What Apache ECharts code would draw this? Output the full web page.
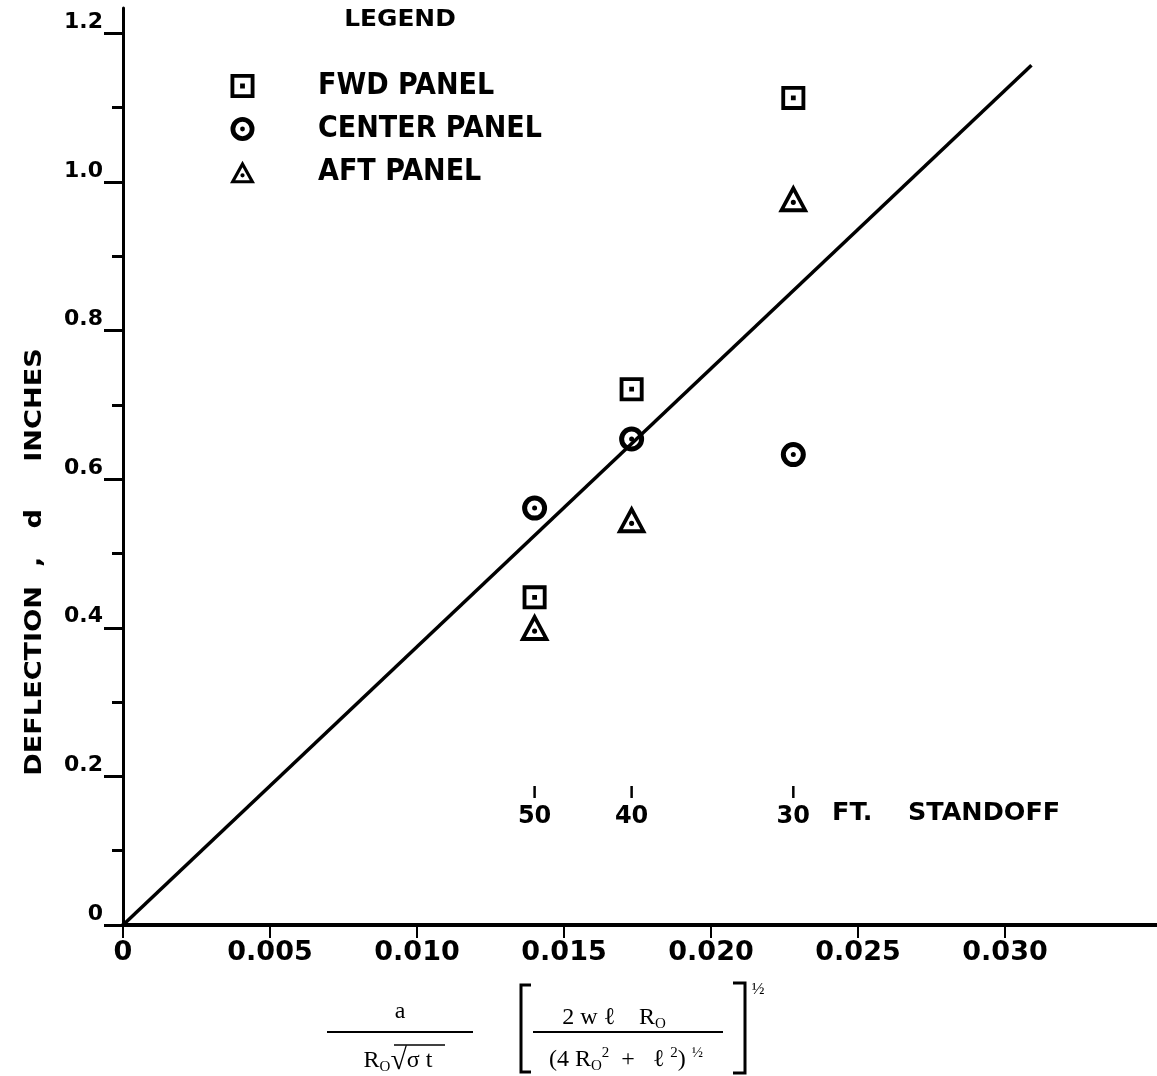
<!DOCTYPE html>
<html>
<head>
<meta charset="utf-8">
<script src="https://cdn.jsdelivr.net/npm/echarts@6/dist/echarts.min.js"></script>
<style>
html,body{margin:0;padding:0;background:#fff;}
#chart{width:1157px;height:1076px;}
</style>
</head>
<body>
<div id="chart"></div>
<script>
// ---- data ----
const xTickValues = [0, 0.005, 0.010, 0.015, 0.020, 0.025, 0.030];
const xTickLabels = ['0', '0.005', '0.010', '0.015', '0.020', '0.025', '0.030'];
const yTickValues = [0, 0.2, 0.4, 0.6, 0.8, 1.0, 1.2];
const yTickLabels = ['0', '0.2', '0.4', '0.6', '0.8', '1.0', '1.2'];
const yMinorTicks = [0.1, 0.3, 0.5, 0.7, 0.9, 1.1];
const standoffX = [0.0140, 0.0173, 0.0228];
const standoffFt = ['50', '40', '30'];
const standoffUnit = 'FT.    STANDOFF';
const fwdY = [0.441, 0.721, 1.113];
const centerY = [0.561, 0.654, 0.633];
const aftY = [0.401, 0.546, 0.978];
const fitX = [0, 0.0309];
const fitY = [0, 1.157];
const seriesNames = ['FWD PANEL', 'CENTER PANEL', 'AFT PANEL'];
const yAxisTitle = 'DEFLECTION  ,   d     INCHES';
const legendTitle = 'LEGEND';

// ---- styles ----
const INK = '#000';
const SANS = "'DejaVu Sans', 'Liberation Sans', sans-serif";
const NARROW = "'Liberation Sans Narrow', 'DejaVu Sans Condensed', 'Roboto Condensed', 'Liberation Sans', sans-serif";
const SERIF = "'Liberation Serif', 'DejaVu Serif', serif";
const STANDOFF_MARK_Y = 0.179;

const squareSym = 'path://M0,0H20V20H0Z M3.2,3.2V16.8H16.8V3.2Z M8,8H12V12H8Z';
const circleSym = 'path://M10,0A10,10 0 1,1 10,20A10,10 0 1,1 10,0Z M10,4A6,6 0 1,0 10,16A6,6 0 1,0 10,4Z M10,8A2,2 0 1,1 10,12A2,2 0 1,1 10,8Z';
const triSym = 'path://M10,0L20,18L0,18Z M10,5.2L4.2,15.5L15.8,15.5Z M10,9.9A1.7,1.7 0 1,1 10,13.3A1.7,1.7 0 1,1 10,9.9Z';

function pairs(xs, ys) { return xs.map((x, i) => [x, ys[i]]); }
function labelFor(values, labels, v) {
  const i = values.findIndex(t => Math.abs(t - v) < 1e-9);
  return i >= 0 ? labels[i] : '';
}
function centered(extra) {
  return Object.assign({align: 'center', verticalAlign: 'middle', textAlign: 'center', textVerticalAlign: 'middle', fill: INK}, extra);
}

const chart = echarts.init(document.getElementById('chart'), null, {renderer: 'canvas'});

const subRich = {fontFamily: SERIF, fontSize: 15, fill: INK, lineHeight: 28, verticalAlign: 'bottom', padding: [12, 0, 0, 0]};
const supRich = {fontFamily: SERIF, fontSize: 15, fill: INK, lineHeight: 28, verticalAlign: 'top', padding: [0, 0, 12, 0]};

const option = {
  backgroundColor: '#fff',
  animation: false,
  legend: {
    orient: 'vertical', left: 230, top: 71, padding: 0,
    itemWidth: 25, itemHeight: 24, itemGap: 13,
    data: seriesNames,
    itemStyle: {opacity: 1},
    textStyle: {fontFamily: NARROW, fontWeight: 'bold', fontSize: 30, lineHeight: 30, color: INK, padding: [0, 0, 0, 58]}
  },
  grid: {left: 123, right: 0, top: 8, bottom: 151, containLabel: false},
  xAxis: {
    type: 'value', min: 0, max: 0.03517,
    axisLine: {show: true, onZero: false, lineStyle: {color: INK, width: 4}},
    axisTick: {show: true, length: 13, lineStyle: {color: INK, width: 2}, customValues: xTickValues},
    axisLabel: {
      customValues: xTickValues, margin: 14,
      fontFamily: SANS, fontWeight: 'bold', fontSize: 27, color: INK,
      formatter: v => labelFor(xTickValues, xTickLabels, v)
    },
    splitLine: {show: false}
  },
  yAxis: [{
    type: 'value', min: 0, max: 1.234,
    axisLine: {show: true, onZero: false, lineStyle: {color: INK, width: 3}},
    axisTick: {show: true, length: 19, lineStyle: {color: INK, width: 3}, customValues: yTickValues},
    axisLabel: {
      customValues: yTickValues, margin: 20, verticalAlign: 'bottom',
      fontFamily: SANS, fontWeight: 'bold', fontSize: 22, color: INK,
      formatter: v => labelFor(yTickValues, yTickLabels, v)
    },
    splitLine: {show: false}
  }, {
    type: 'value', min: 0, max: 1.234, position: 'left',
    axisLine: {show: false},
    axisTick: {show: true, length: 11, lineStyle: {color: INK, width: 3}, customValues: yMinorTicks},
    axisLabel: {show: false},
    splitLine: {show: false}
  }],
  series: [
    {
      name: 'fit', type: 'line', data: pairs(fitX, fitY), showSymbol: false, symbol: 'none',
      lineStyle: {color: INK, width: 3.5}, z: 2, silent: true
    },
    {
      name: seriesNames[0], type: 'scatter', data: pairs(standoffX, fwdY),
      symbol: squareSym, symbolSize: 24, itemStyle: {color: INK, opacity: 1}, z: 3
    },
    {
      name: seriesNames[1], type: 'scatter', data: pairs(standoffX, centerY),
      symbol: circleSym, symbolSize: 25, itemStyle: {color: INK, opacity: 1}, z: 3
    },
    {
      name: seriesNames[2], type: 'scatter', data: pairs(standoffX, aftY),
      symbol: triSym, symbolSize: [30, 28], itemStyle: {color: INK, opacity: 1}, z: 3
    },
    {
      name: 'standoff', type: 'scatter', silent: true,
      data: standoffX.map((x, i) => ({value: [x, STANDOFF_MARK_Y], name: standoffFt[i]})),
      symbol: 'rect', symbolSize: [2.5, 12], itemStyle: {color: INK, opacity: 1},
      label: {
        show: true, position: 'bottom', distance: 7,
        fontFamily: SANS, fontWeight: 'bold', fontSize: 24, color: INK,
        formatter: p => p.name
      }
    }
  ],
  graphic: [
    {type: 'text', x: 400, y: 20, scaleX: 1.08,
      style: centered({text: legendTitle, fontFamily: SANS, fontWeight: 'bold', fontSize: 23})},
    {type: 'text', x: 35, y: 562, rotation: Math.PI / 2, scaleX: 1.18,
      style: centered({text: yAxisTitle, fontFamily: SANS, fontWeight: 'bold', fontSize: 23})},
    {type: 'text', x: 832, y: 814, scaleX: 1.06,
      style: {text: standoffUnit, fontFamily: SANS, fontWeight: 'bold', fontSize: 24, fill: INK,
        align: 'left', verticalAlign: 'middle', textAlign: 'left', textVerticalAlign: 'middle'}},
    // x-axis formula
    {type: 'text', x: 400, y: 1012, style: centered({text: 'a', fontFamily: SERIF, fontSize: 24})},
    {type: 'line', shape: {x1: 327, y1: 1032, x2: 473, y2: 1032}, style: {stroke: INK, lineWidth: 2}},
    {type: 'text', x: 398, y: 1061, style: centered({
      text: 'R{s|O}{r|√}{n|σ t}', fontFamily: SERIF, fontSize: 24,
      rich: {
        n: {fontFamily: SERIF, fontSize: 24, fill: INK, lineHeight: 28, verticalAlign: 'middle'},
        r: {fontFamily: SERIF, fontSize: 30, fill: INK, lineHeight: 28, verticalAlign: 'middle'},
        s: subRich
      }})},
    {type: 'line', shape: {x1: 394, y1: 1045, x2: 445, y2: 1045}, style: {stroke: INK, lineWidth: 1.5}},
    {type: 'polyline', shape: {points: [[531, 985], [521, 985], [521, 1072], [531, 1072]]}, style: {stroke: INK, lineWidth: 3, fill: null}},
    {type: 'polyline', shape: {points: [[733, 983], [745, 983], [745, 1073], [733, 1073]]}, style: {stroke: INK, lineWidth: 3, fill: null}},
    {type: 'text', x: 614, y: 1018, style: centered({
      text: '2 w ℓ    R{s|O}', fontFamily: SERIF, fontSize: 24,
      rich: {s: subRich}})},
    {type: 'line', shape: {x1: 533, y1: 1032, x2: 723, y2: 1032}, style: {stroke: INK, lineWidth: 2}},
    {type: 'text', x: 626, y: 1060, style: centered({
      text: '(4 R{s|O}{p|2}  +   ℓ {p|2}) {p|½}', fontFamily: SERIF, fontSize: 24,
      rich: {s: subRich, p: supRich}})},
    {type: 'text', x: 758, y: 990, style: centered({text: '½', fontFamily: SERIF, fontSize: 17})}
  ]
};
chart.setOption(option);
</script>
</body>
</html>
